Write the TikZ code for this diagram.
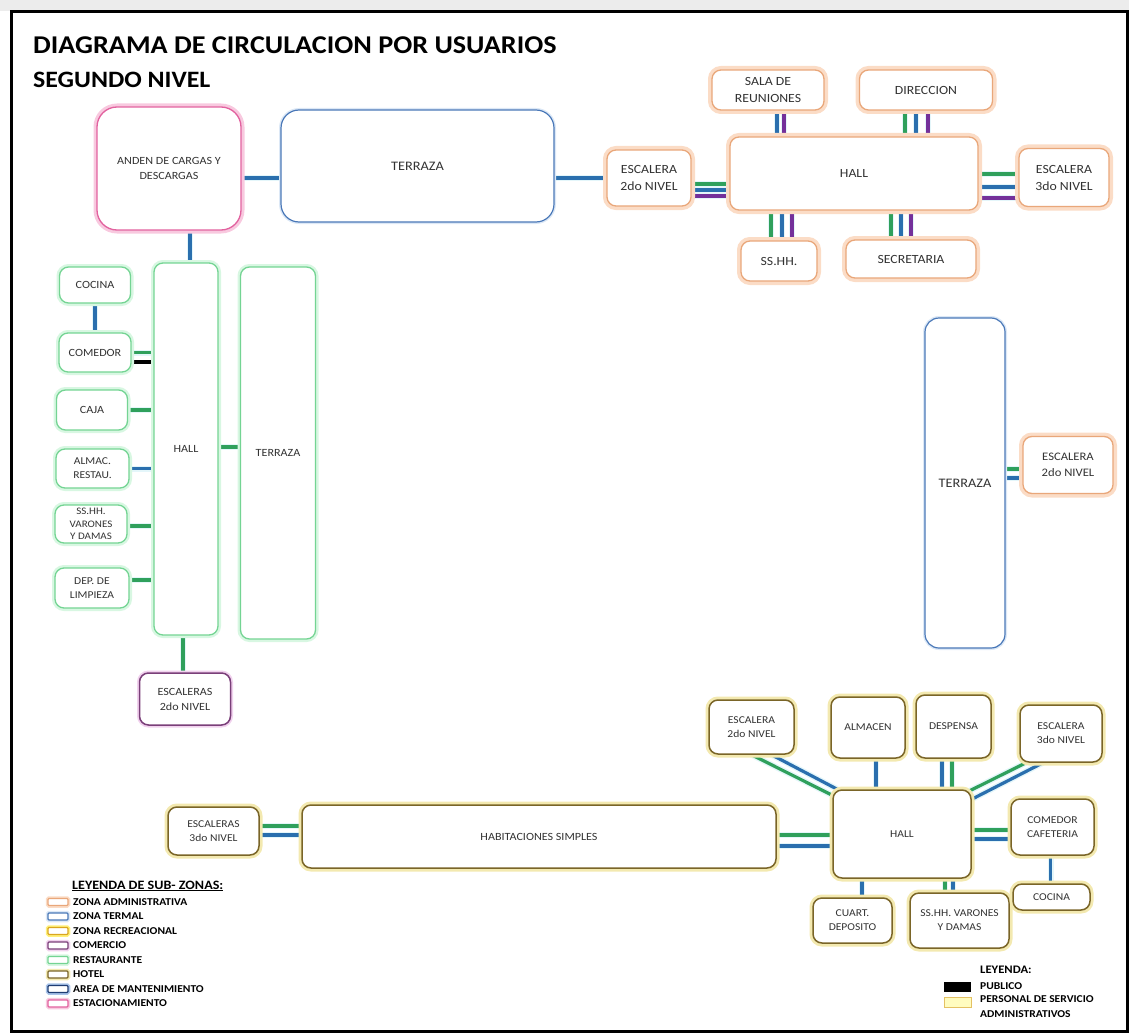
\documentclass[tikz,border=0pt]{standalone}
\usepackage{fontspec}
\setmainfont{Carlito}[FakeStretch=1.1]
\usetikzlibrary{backgrounds}

\definecolor{admline}{HTML}{E9A77A}
\definecolor{admglow}{HTML}{FBDCC6}
\definecolor{terline}{HTML}{4A78B8}
\definecolor{terglow}{HTML}{DCE8F6}
\definecolor{resline}{HTML}{74D493}
\definecolor{resglow}{HTML}{D8F7E2}
\definecolor{comline}{HTML}{7A3F79}
\definecolor{comglow}{HTML}{F1D2EE}
\definecolor{hotline}{HTML}{7A6528}
\definecolor{hotglow}{HTML}{F3E9B0}
\definecolor{estline}{HTML}{E2629F}
\definecolor{estglow}{HTML}{F8C9DF}
\definecolor{recline}{HTML}{D9A620}
\definecolor{recglow}{HTML}{FFF07A}
\definecolor{manline}{HTML}{1F3D73}
\definecolor{manglow}{HTML}{A9C4EA}
\definecolor{conblue}{HTML}{2A6FAE}
\definecolor{congreen}{HTML}{2FA05C}
\definecolor{conpurple}{HTML}{74309A}
\definecolor{conhalo}{HTML}{E4F6FA}

\colorlet{glowc}{white}
\def\glowwid{6pt}
\tikzset{
  glowcolor/.code={\colorlet{glowc}{#1}},
  glowwidth/.code={\def\glowwid{#1}}
}

\begin{document}
\begin{tikzpicture}[x=1pt,y=-1pt]
\tikzstyle{room}=[rounded corners=9pt,fill=white,align=center,text=black!80,inner sep=1pt,line width=1.3pt,preaction={draw=glowc,line width=\glowwid},font=\fontsize{11}{15}\selectfont]
\tikzstyle{adm}=[room,draw=admline,glowcolor=admglow,glowwidth=8pt,font=\fontsize{12.5}{17}\selectfont]
\tikzstyle{ter}=[room,draw=terline,glowcolor=terglow,glowwidth=4pt,line width=1.2pt,rounded corners=18pt,font=\fontsize{13}{16}\selectfont]
\tikzstyle{res}=[room,draw=resline,glowcolor=resglow,glowwidth=6pt]
\tikzstyle{com}=[room,draw=comline,glowcolor=comglow,glowwidth=5pt,line width=1.5pt]
\tikzstyle{hot}=[room,draw=hotline,glowcolor=hotglow,glowwidth=7pt,line width=1.5pt,font=\fontsize{10.5}{14}\selectfont]
\tikzstyle{est}=[room,draw=estline,glowcolor=estglow,glowwidth=7pt,rounded corners=20pt]
\tikzstyle{rec}=[room,draw=recline,glowcolor=recglow]
\tikzstyle{man}=[room,draw=manline,glowcolor=manglow]
\tikzstyle{swatch}=[rounded corners=1pt,minimum width=20,minimum height=7,inner sep=0pt,line width=1.3pt,glowwidth=4.5pt]
\tikzstyle{lgtxt}=[anchor=west,inner sep=0pt,font=\fontsize{10.5}{12}\bfseries]
\tikzstyle{cb}=[draw=conblue,line width=3.2pt,preaction={draw=conhalo,line width=6pt}]
\tikzstyle{cg}=[draw=congreen,line width=3.2pt,preaction={draw=conhalo,line width=6pt}]
\tikzstyle{cp}=[draw=conpurple,line width=3.2pt,preaction={draw=conhalo,line width=6pt}]
\tikzstyle{ck}=[draw=black,line width=3.2pt]

\useasboundingbox (0,0) rectangle (1129,1035);
\draw[line width=3pt] (11,12) rectangle (1127,1031);

% titles
\node[anchor=base west,inner sep=0pt,font=\fontsize{25.6}{30}\bfseries] (titulo) at (33,54) {DIAGRAMA DE CIRCULACION POR USUARIOS};
\node[anchor=base west,inner sep=0pt,font=\fontsize{23.5}{28}\bfseries] (subtitulo) at (33,88) {SEGUNDO NIVEL};

% zona administrativa
\node[adm,minimum width=84,minimum height=56] (esc2a) at (649,178) {ESCALERA\\2do NIVEL};
\node[adm,minimum width=248,minimum height=73] (halla) at (854,173.5) {HALL};
\node[adm,minimum width=112,minimum height=40] (sala) at (768,90) {SALA DE\\REUNIONES};
\node[adm,minimum width=133,minimum height=40] (dir) at (926,90) {DIRECCION};
\node[adm,minimum width=76,minimum height=40] (sshh) at (779,261) {SS.HH.};
\node[adm,minimum width=130,minimum height=38] (secr) at (911,259) {SECRETARIA};
\node[adm,minimum width=90,minimum height=58] (esc3a) at (1064,177.5) {ESCALERA\\3do NIVEL};

% anden y terraza
\node[est,minimum width=144,minimum height=123] (anden) at (169,168.5) {ANDEN DE CARGAS Y\\DESCARGAS};
\node[ter,minimum width=273,minimum height=112] (terr1) at (417.5,166) {TERRAZA};

% restaurante
\node[res,minimum width=64,minimum height=372] (hallr) at (186,449) {HALL};
\node[res,minimum width=75,minimum height=372] (terr2) at (278,453) {TERRAZA};
\node[res,minimum width=71,minimum height=36] (cocina) at (95,285) {COCINA};
\node[res,minimum width=72,minimum height=39] (comedor) at (95,352.5) {COMEDOR};
\node[res,minimum width=71,minimum height=40] (caja) at (92,410) {CAJA};
\node[res,minimum width=73,minimum height=39,font=\fontsize{10.5}{14}\selectfont] (almac) at (92.5,468.5) {ALMAC.\\RESTAU.};
\node[res,minimum width=72,minimum height=38,inner sep=0pt,font=\fontsize{10}{12.5}\selectfont] (sshhr) at (91,524) {SS.HH.\\VARONES\\Y DAMAS};
\node[res,minimum width=74,minimum height=40,font=\fontsize{10.5}{13.5}\selectfont] (dep) at (92,588) {DEP. DE\\LIMPIEZA};
\node[com,minimum width=91,minimum height=52] (escr) at (185,699) {ESCALERAS\\2do NIVEL};

% terraza derecha
\node[ter,minimum width=80,minimum height=330,rounded corners=14pt] (terr3) at (965,483) {TERRAZA};
\node[adm,minimum width=90,minimum height=57,font=\fontsize{11.5}{16}\selectfont] (esc2r) at (1068,465) {ESCALERA\\2do NIVEL};

% hotel
\node[hot,minimum width=138,minimum height=88] (hallh) at (902,834) {HALL};
\node[hot,minimum width=85,minimum height=54] (esc2h) at (751.5,727) {ESCALERA\\2do NIVEL};
\node[hot,minimum width=74,minimum height=61] (almh) at (868,727.5) {ALMACEN};
\node[hot,minimum width=75,minimum height=63] (desh) at (953.5,726.5) {DESPENSA};
\node[hot,minimum width=82,minimum height=57] (esc3h) at (1061,733.5) {ESCALERA\\3do NIVEL};
\node[hot,minimum width=83,minimum height=56] (comh) at (1052.5,827) {COMEDOR\\CAFETERIA};
\node[hot,minimum width=79,minimum height=45] (cuart) at (852.5,920.5) {CUART.\\DEPOSITO};
\node[hot,minimum width=99,minimum height=55] (sshhh) at (959.5,920.5) {SS.HH. VARONES\\Y DAMAS};
\node[hot,minimum width=77,minimum height=26] (cocinah) at (1051.5,897) {COCINA};
\node[hot,minimum width=474,minimum height=63,font=\fontsize{11}{14}\selectfont] (hab) at (539,836.5) {HABITACIONES SIMPLES};
\node[hot,minimum width=91,minimum height=48] (esc3l) at (213.5,831) {ESCALERAS\\3do NIVEL};

% leyenda de sub-zonas
\node[anchor=west,inner sep=0pt,font=\fontsize{12.8}{14}\bfseries] (lgtit) at (72,886) {\underline{LEYENDA DE SUB- ZONAS:}};
\node[adm,swatch] (swadm) at (58,902) {};
\node[lgtxt] (lgadm) at (73,902) {ZONA ADMINISTRATIVA};
\node[ter,swatch] (swter) at (58,916.5) {};
\node[lgtxt] (lgter) at (73,916.5) {ZONA TERMAL};
\node[rec,swatch] (swrec) at (58,931) {};
\node[lgtxt] (lgrec) at (73,931) {ZONA RECREACIONAL};
\node[com,swatch] (swcom) at (58,945.5) {};
\node[lgtxt] (lgcom) at (73,945.5) {COMERCIO};
\node[res,swatch] (swres) at (58,960) {};
\node[lgtxt] (lgres) at (73,960) {RESTAURANTE};
\node[hot,swatch] (swhot) at (58,974.5) {};
\node[lgtxt] (lghot) at (73,974.5) {HOTEL};
\node[man,swatch] (swman) at (58,989) {};
\node[lgtxt] (lgman) at (73,989) {AREA DE MANTENIMIENTO};
\node[est,swatch] (swest) at (58,1003.5) {};
\node[lgtxt] (lgest) at (73,1003.5) {ESTACIONAMIENTO};

% leyenda de usuarios
\node[anchor=west,inner sep=0pt,font=\fontsize{11.5}{13}\bfseries] (lgtit2) at (980,970) {LEYENDA:};
\node[fill=black,minimum width=27,minimum height=10,inner sep=0pt] (swpub) at (957.5,987) {};
\node[lgtxt,font=\fontsize{10.5}{15}\bfseries] (lgpub) at (980,986) {PUBLICO};
\node[draw=recline!70,fill=yellow!25,line width=1pt,minimum width=27,minimum height=10,inner sep=0pt] (swper) at (957.5,1002) {};
\node[lgtxt,anchor=north west,align=left,font=\fontsize{10.5}{15}\bfseries] (lgper) at (980,995) {PERSONAL DE SERVICIO\\ADMINISTRATIVOS};

\begin{scope}[on background layer]
\fill[gray!15] (0,0) rectangle (1129,11);
% conexiones zona administrativa
\draw[cb] ([yshift=-9.5pt]anden.east) -- ([yshift=-9.5pt]anden.east -| terr1.west);
\draw[cb] (esc2a.west -| terr1.east) -- (esc2a.west);
\draw[cg] ([yshift=-6pt]esc2a.east) -- ([yshift=-6pt]esc2a.east -| halla.west);
\draw[cb] ([yshift=-12pt]esc2a.east) -- ([yshift=-12pt]esc2a.east -| halla.west);
\draw[cp] ([yshift=-18pt]esc2a.east) -- ([yshift=-18pt]esc2a.east -| halla.west);
\draw[cb] ([xshift=9pt]sala.south) -- ([xshift=9pt]sala.south |- halla.north);
\draw[cp] ([xshift=16pt]sala.south) -- ([xshift=16pt]sala.south |- halla.north);
\draw[cg] ([xshift=-21pt]dir.south) -- ([xshift=-21pt]dir.south |- halla.north);
\draw[cb] ([xshift=-10pt]dir.south) -- ([xshift=-10pt]dir.south |- halla.north);
\draw[cp] ([xshift=2pt]dir.south) -- ([xshift=2pt]dir.south |- halla.north);
\draw[cg] ([xshift=-8pt]sshh.north |- halla.south) -- ([xshift=-8pt]sshh.north);
\draw[cb] ([xshift=3pt]sshh.north |- halla.south) -- ([xshift=3pt]sshh.north);
\draw[cp] ([xshift=13pt]sshh.north |- halla.south) -- ([xshift=13pt]sshh.north);
\draw[cg] ([xshift=-20pt]secr.north |- halla.south) -- ([xshift=-20pt]secr.north);
\draw[cb] ([xshift=-10pt]secr.north |- halla.south) -- ([xshift=-10pt]secr.north);
\draw[cp] (secr.north |- halla.south) -- (secr.north);
\draw[cg] ([yshift=3.5pt]esc3a.west -| halla.east) -- ([yshift=3.5pt]esc3a.west);
\draw[cb] ([yshift=-9.5pt]esc3a.west -| halla.east) -- ([yshift=-9.5pt]esc3a.west);
\draw[cp] ([yshift=-20.5pt]esc3a.west -| halla.east) -- ([yshift=-20.5pt]esc3a.west);
% conexiones restaurante
\draw[cb] ([xshift=21pt]anden.south) -- ([xshift=21pt]anden.south |- hallr.north);
\draw[cb] (cocina) -- (comedor);
\draw[cg] (comedor.east) -- (comedor.east -| hallr.west);
\draw[ck] ([yshift=-9.5pt]comedor.east) -- ([yshift=-9.5pt]comedor.east -| hallr.west);
\draw[cg] (caja.east) -- (caja.east -| hallr.west);
\draw[cb] (almac.east) -- (almac.east -| hallr.west);
\draw[cg] ([yshift=-2pt]sshhr.east) -- ([yshift=-2pt]sshhr.east -| hallr.west);
\draw[cg] ([yshift=8pt]dep.east) -- ([yshift=8pt]dep.east -| hallr.west);
\draw[cg] ([yshift=2pt]hallr.east) -- ([yshift=2pt]hallr.east -| terr2.west);
\draw[cg] ([xshift=-3pt]hallr.south) -- ([xshift=-3pt]hallr.south |- escr.north);
% conexiones terraza derecha
\draw[cg] ([yshift=-4pt]esc2r.west -| terr3.east) -- ([yshift=-4pt]esc2r.west);
\draw[cb] ([yshift=-13pt]esc2r.west -| terr3.east) -- ([yshift=-13pt]esc2r.west);
% conexiones hotel
\draw[cg] ([yshift=5pt]esc3l.east) -- ([yshift=5pt]esc3l.east -| hab.west);
\draw[cb] ([yshift=-4pt]esc3l.east) -- ([yshift=-4pt]esc3l.east -| hab.west);
\draw[cg] ([yshift=1.5pt]hab.east) -- ([yshift=1.5pt]hab.east -| hallh.west);
\draw[cb] ([yshift=-9.5pt]hab.east) -- ([yshift=-9.5pt]hab.east -| hallh.west);
\draw[cg] (esc2h.south) -- ([yshift=-6pt]hallh.north west);
\draw[cb] ([xshift=20pt]esc2h.south) -- ([xshift=5pt]hallh.north west);
\draw[cb] ([xshift=8pt]almh.south) -- ([xshift=8pt]almh.south |- hallh.north);
\draw[cb] ([xshift=-11.5pt]desh.south) -- ([xshift=-11.5pt]desh.south |- hallh.north);
\draw[cg] ([xshift=-1.5pt]desh.south) -- ([xshift=-1.5pt]desh.south |- hallh.north);
\draw[cg] ([xshift=-35pt]esc3h.south) -- ([xshift=-3pt,yshift=-2pt]hallh.north east);
\draw[cb] ([xshift=-18pt]esc3h.south) -- ([yshift=-10pt]hallh.north east);
\draw[cg] ([yshift=-3pt]comh.west -| hallh.east) -- ([yshift=-3pt]comh.west);
\draw[cb] ([yshift=-12pt]comh.west -| hallh.east) -- ([yshift=-12pt]comh.west);
\draw[cb] ([xshift=-2pt]comh.south) -- ([xshift=-2pt]comh.south |- cocinah.north);
\draw[cb] ([xshift=9.5pt]cuart.north |- hallh.south) -- ([xshift=9.5pt]cuart.north);
\draw[cg] ([xshift=-14.5pt]sshhh.north |- hallh.south) -- ([xshift=-14.5pt]sshhh.north);
\draw[cb] ([xshift=-6.5pt]sshhh.north |- hallh.south) -- ([xshift=-6.5pt]sshhh.north);
\end{scope}
\end{tikzpicture}
\end{document}
